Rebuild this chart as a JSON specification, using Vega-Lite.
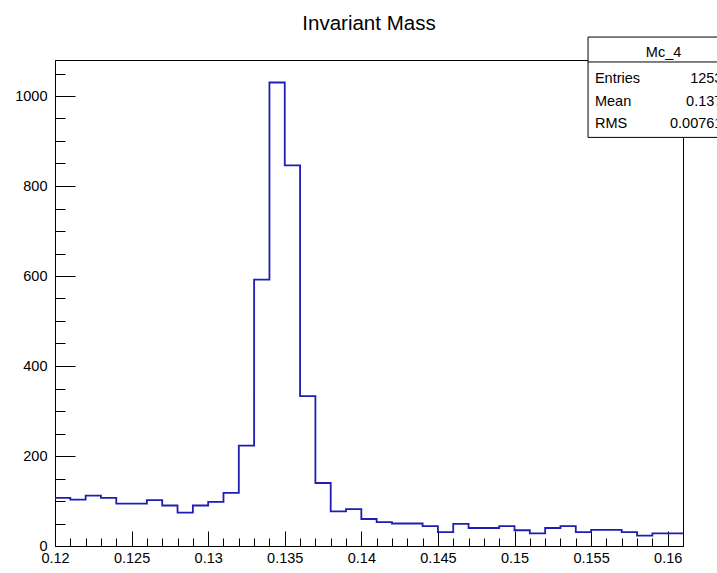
{
  "$schema": "https://vega.github.io/schema/vega-lite/v6.json",
  "autosize": "none",
  "width": 628,
  "height": 486,
  "padding": {"left": 55, "top": 60, "right": 34, "bottom": 27},
  "background": "white",
  "title": {"text": "Invariant Mass", "frame": "group", "anchor": "middle", "baseline": "alphabetic", "offset": 9, "dy": 23, "fontSize": 20.5, "font": "Liberation Sans, Arial, sans-serif", "fontWeight": "normal", "color": "black"},
  "config": {
    "view": {"stroke": "black", "strokeWidth": 1},
    "axis": {"domainColor": "black", "tickColor": "black", "tickWidth": 1, "labelColor": "black", "labelFont": "Liberation Sans, Arial, sans-serif", "labelFontSize": 14.5, "grid": false, "labelFlush": false, "labelOverlap": false, "title": null},
    "text": {"font": "Liberation Sans, Arial, sans-serif", "fontSize": 14.5, "color": "black", "baseline": "alphabetic"}
  },
  "datasets": {
    "hist": [
      {"x0": 0.120, "x1": 0.121, "n": 107},
      {"x0": 0.121, "x1": 0.122, "n": 103},
      {"x0": 0.122, "x1": 0.123, "n": 112},
      {"x0": 0.123, "x1": 0.124, "n": 107},
      {"x0": 0.124, "x1": 0.125, "n": 94},
      {"x0": 0.125, "x1": 0.126, "n": 94},
      {"x0": 0.126, "x1": 0.127, "n": 102},
      {"x0": 0.127, "x1": 0.128, "n": 90},
      {"x0": 0.128, "x1": 0.129, "n": 74},
      {"x0": 0.129, "x1": 0.130, "n": 90},
      {"x0": 0.130, "x1": 0.131, "n": 98},
      {"x0": 0.131, "x1": 0.132, "n": 118},
      {"x0": 0.132, "x1": 0.133, "n": 223},
      {"x0": 0.133, "x1": 0.134, "n": 592},
      {"x0": 0.134, "x1": 0.135, "n": 1030},
      {"x0": 0.135, "x1": 0.136, "n": 846},
      {"x0": 0.136, "x1": 0.137, "n": 333},
      {"x0": 0.137, "x1": 0.138, "n": 140},
      {"x0": 0.138, "x1": 0.139, "n": 77},
      {"x0": 0.139, "x1": 0.140, "n": 82},
      {"x0": 0.140, "x1": 0.141, "n": 60},
      {"x0": 0.141, "x1": 0.142, "n": 53},
      {"x0": 0.142, "x1": 0.143, "n": 50},
      {"x0": 0.143, "x1": 0.144, "n": 50},
      {"x0": 0.144, "x1": 0.145, "n": 44},
      {"x0": 0.145, "x1": 0.146, "n": 31},
      {"x0": 0.146, "x1": 0.147, "n": 49},
      {"x0": 0.147, "x1": 0.148, "n": 40},
      {"x0": 0.148, "x1": 0.149, "n": 40},
      {"x0": 0.149, "x1": 0.150, "n": 44},
      {"x0": 0.150, "x1": 0.151, "n": 35},
      {"x0": 0.151, "x1": 0.152, "n": 28},
      {"x0": 0.152, "x1": 0.153, "n": 40},
      {"x0": 0.153, "x1": 0.154, "n": 44},
      {"x0": 0.154, "x1": 0.155, "n": 31},
      {"x0": 0.155, "x1": 0.156, "n": 36},
      {"x0": 0.156, "x1": 0.157, "n": 36},
      {"x0": 0.157, "x1": 0.158, "n": 31},
      {"x0": 0.158, "x1": 0.159, "n": 23},
      {"x0": 0.159, "x1": 0.160, "n": 28},
      {"x0": 0.160, "x1": 0.161, "n": 28}
    ],
    "stats": [
      {"name": "Entries", "value": "12534"},
      {"name": "Mean", "value": "0.1372"},
      {"name": "RMS", "value": "0.007612"}
    ]
  },
  "resolve": {"axis": {"x": "independent", "y": "independent"}},
  "layer": [
    {
      "data": {"name": "hist"},
      "transform": [{"fold": ["x0", "x1"], "as": ["edge", "x"]}],
      "mark": {"type": "line", "stroke": "#1e1eb4", "strokeWidth": 1.8, "interpolate": "linear"},
      "encoding": {
        "x": {"field": "x", "type": "quantitative", "scale": {"domain": [0.12, 0.161], "nice": false, "zero": false},
              "axis": {"orient": "bottom", "values": [0.12, 0.125, 0.13, 0.135, 0.14, 0.145, 0.15, 0.155, 0.16], "format": "~g", "tickSize": -15, "labelPadding": 20}},
        "y": {"field": "n", "type": "quantitative", "scale": {"domain": [0, 1080], "nice": false, "zero": true},
              "axis": {"orient": "left", "values": [0, 200, 400, 600, 800, 1000], "format": "d", "tickSize": -20, "labelPadding": 28}},
        "order": [{"field": "x", "type": "quantitative"}, {"field": "edge", "sort": "descending"}]
      }
    },
    {
      "data": {"values": [{}]},
      "mark": {"type": "rect", "fill": "white", "stroke": "black", "strokeWidth": 1},
      "encoding": {
        "x": {"datum": 0.1548, "type": "quantitative", "scale": {"domain": [0.12, 0.161], "nice": false, "zero": false},
              "axis": {"orient": "bottom", "values": [0.12, 0.121, 0.122, 0.123, 0.124, 0.125, 0.126, 0.127, 0.128, 0.129, 0.13, 0.131, 0.132, 0.133, 0.134, 0.135, 0.136, 0.137, 0.138, 0.139, 0.14, 0.141, 0.142, 0.143, 0.144, 0.145, 0.146, 0.147, 0.148, 0.149, 0.15, 0.151, 0.152, 0.153, 0.154, 0.155, 0.156, 0.157, 0.158, 0.159, 0.16, 0.161], "tickSize": -8, "labels": false, "domain": false}},
        "x2": {"datum": 0.1646},
        "y": {"datum": 1131, "type": "quantitative", "scale": {"domain": [0, 1080], "nice": false, "zero": true},
              "axis": {"orient": "left", "values": [0, 50, 100, 150, 200, 250, 300, 350, 400, 450, 500, 550, 600, 650, 700, 750, 800, 850, 900, 950, 1000, 1050], "tickSize": -10, "labels": false, "domain": false}},
        "y2": {"datum": 908}
      }
    },
    {
      "data": {"values": [{}]},
      "mark": {"type": "rule", "stroke": "black", "strokeWidth": 1},
      "encoding": {
        "x": {"datum": 0.1548, "type": "quantitative", "axis": null},
        "x2": {"datum": 0.1646},
        "y": {"datum": 1075.6, "type": "quantitative", "axis": null}
      }
    },
    {
      "data": {"values": [{}]},
      "mark": {"type": "text", "align": "center", "text": "Mc_4"},
      "encoding": {
        "x": {"datum": 0.15973, "type": "quantitative", "axis": null},
        "y": {"datum": 1086.7, "type": "quantitative", "axis": null}
      }
    },
    {
      "data": {"name": "stats"},
      "transform": [{"filter": "datum.name === 'Entries'"}],
      "layer": [
        {"mark": {"type": "text", "align": "left"}, "encoding": {"text": {"field": "name"}, "x": {"datum": 0.15525, "type": "quantitative", "axis": null}, "y": {"datum": 1028, "type": "quantitative", "axis": null}}},
        {"mark": {"type": "text", "align": "right"}, "encoding": {"text": {"field": "value"}, "x": {"datum": 0.1641, "type": "quantitative", "axis": null}, "y": {"datum": 1028, "type": "quantitative", "axis": null}}}
      ]
    },
    {
      "data": {"name": "stats"},
      "transform": [{"filter": "datum.name === 'Mean'"}],
      "layer": [
        {"mark": {"type": "text", "align": "left"}, "encoding": {"text": {"field": "name"}, "x": {"datum": 0.15525, "type": "quantitative", "axis": null}, "y": {"datum": 978, "type": "quantitative", "axis": null}}},
        {"mark": {"type": "text", "align": "right"}, "encoding": {"text": {"field": "value"}, "x": {"datum": 0.1641, "type": "quantitative", "axis": null}, "y": {"datum": 978, "type": "quantitative", "axis": null}}}
      ]
    },
    {
      "data": {"name": "stats"},
      "transform": [{"filter": "datum.name === 'RMS'"}],
      "layer": [
        {"mark": {"type": "text", "align": "left"}, "encoding": {"text": {"field": "name"}, "x": {"datum": 0.15525, "type": "quantitative", "axis": null}, "y": {"datum": 928, "type": "quantitative", "axis": null}}},
        {"mark": {"type": "text", "align": "right"}, "encoding": {"text": {"field": "value"}, "x": {"datum": 0.1641, "type": "quantitative", "axis": null}, "y": {"datum": 928, "type": "quantitative", "axis": null}}}
      ]
    }
  ]
}
